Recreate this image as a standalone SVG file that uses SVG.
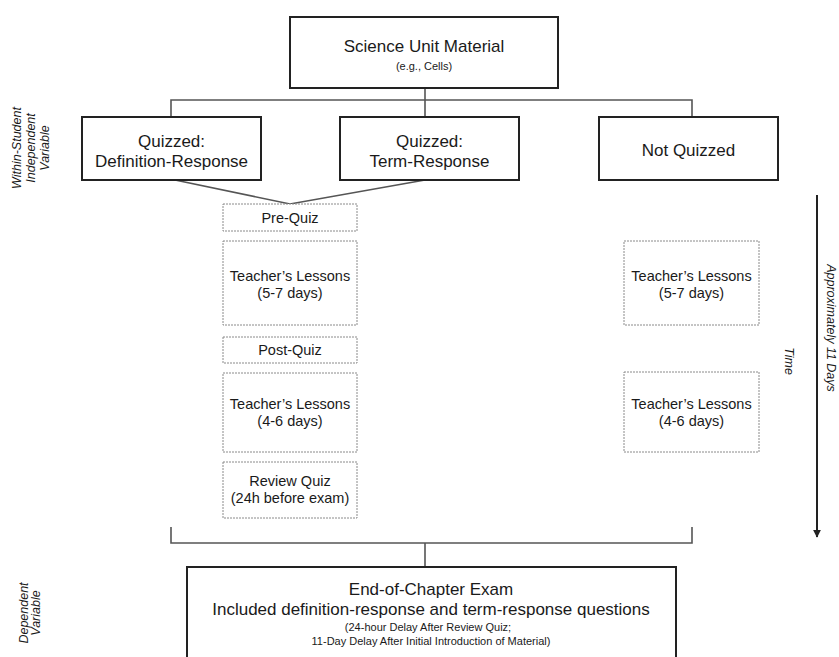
<svg xmlns="http://www.w3.org/2000/svg" width="839" height="657" viewBox="0 0 839 657">
<style>
text{font-family:"Liberation Sans",Arial,sans-serif;fill:#1a1a1a;text-anchor:middle}
.solid{fill:#fff;stroke:#222;stroke-width:2}
.dash{fill:#fff;stroke:#8a8a8a;stroke-width:1;stroke-dasharray:2 1}
.big{font-size:17px}
.mid{font-size:14.5px}
.sm{font-size:11px}
.lab{font-size:12.5px;font-style:italic}
.conn{fill:none;stroke:#555;stroke-width:1.6}
</style>
<defs>
<marker id="ah" viewBox="0 0 10 10" refX="9" refY="5" markerWidth="8" markerHeight="8" markerUnits="userSpaceOnUse" orient="auto">
<path d="M0,0 L10,5 L0,10 z" fill="#222"/>
</marker>
</defs>
<rect width="839" height="657" fill="#fff"/>

<g id="connectors">
<path class="conn" d="M425,88 V117 M171,117 V100 H692 V117"/>
<path class="conn" d="M175,180 L290,204 L425,180"/>
<path class="conn" d="M171,527 V543 H692 V527 M425,543 V567"/>
<line x1="817" y1="195" x2="817" y2="537" stroke="#222" stroke-width="2" marker-end="url(#ah)"/>
</g>

<g id="science">
<rect class="solid" x="290" y="17" width="268" height="71"/>
<text class="big" x="424" y="52">Science Unit Material</text>
<text class="sm" x="424" y="70">(e.g., Cells)</text>
</g>

<g id="quizDef">
<rect class="solid" x="82" y="117" width="179" height="63"/>
<text class="big" x="171.5" y="147">Quizzed:</text>
<text class="big" x="171.5" y="167">Definition-Response</text>
</g>

<g id="quizTerm">
<rect class="solid" x="340" y="117" width="179" height="63"/>
<text class="big" x="429.5" y="147">Quizzed:</text>
<text class="big" x="429.5" y="167">Term-Response</text>
</g>

<g id="notQuizzed">
<rect class="solid" x="599" y="117" width="179" height="63"/>
<text class="big" x="688.5" y="156">Not Quizzed</text>
</g>

<g id="preQuiz">
<rect class="dash" x="223" y="204" width="134" height="27"/>
<text class="mid" x="290" y="223">Pre-Quiz</text>
</g>

<g id="lessonsQ1">
<rect class="dash" x="223" y="241" width="134" height="84"/>
<text class="mid" x="290" y="281">Teacher’s Lessons</text>
<text class="mid" x="290" y="298">(5-7 days)</text>
</g>

<g id="postQuiz">
<rect class="dash" x="223" y="337" width="134" height="26"/>
<text class="mid" x="290" y="355">Post-Quiz</text>
</g>

<g id="lessonsQ2">
<rect class="dash" x="223" y="373" width="134" height="79"/>
<text class="mid" x="290" y="409">Teacher’s Lessons</text>
<text class="mid" x="290" y="426">(4-6 days)</text>
</g>

<g id="reviewQuiz">
<rect class="dash" x="223" y="462" width="134" height="56"/>
<text class="mid" x="290" y="486">Review Quiz</text>
<text class="mid" x="290" y="503">(24h before exam)</text>
</g>

<g id="lessonsN1">
<rect class="dash" x="624" y="241" width="135" height="84"/>
<text class="mid" x="691.5" y="281">Teacher’s Lessons</text>
<text class="mid" x="691.5" y="298">(5-7 days)</text>
</g>

<g id="lessonsN2">
<rect class="dash" x="624" y="372" width="135" height="80"/>
<text class="mid" x="691.5" y="409">Teacher’s Lessons</text>
<text class="mid" x="691.5" y="426">(4-6 days)</text>
</g>

<g id="exam">
<rect class="solid" x="187" y="567" width="489" height="100"/>
<text class="big" x="431" y="595">End-of-Chapter Exam</text>
<text class="big" x="431" y="615">Included definition-response and term-response questions</text>
<text class="sm" x="428" y="631">(24-hour Delay After Review Quiz;</text>
<text class="sm" x="431" y="645">11-Day Delay After Initial Introduction of Material)</text>
</g>

<g id="labelIV" transform="translate(34,148) rotate(-90)">
<text class="lab" x="0" y="-13">Within-Student</text>
<text class="lab" x="0" y="1">Independent</text>
<text class="lab" x="0" y="15">Variable</text>
</g>

<g id="labelDV" transform="translate(28,613) rotate(-90)">
<text class="lab" x="0" y="0">Dependent</text>
<text class="lab" x="0" y="12">Variable</text>
</g>

<g id="timeLabel">
<text class="lab" transform="translate(785,361) rotate(90)">Time</text>
<text class="lab" transform="translate(827,328) rotate(90)">Approximately 11 Days</text>
</g>
</svg>
